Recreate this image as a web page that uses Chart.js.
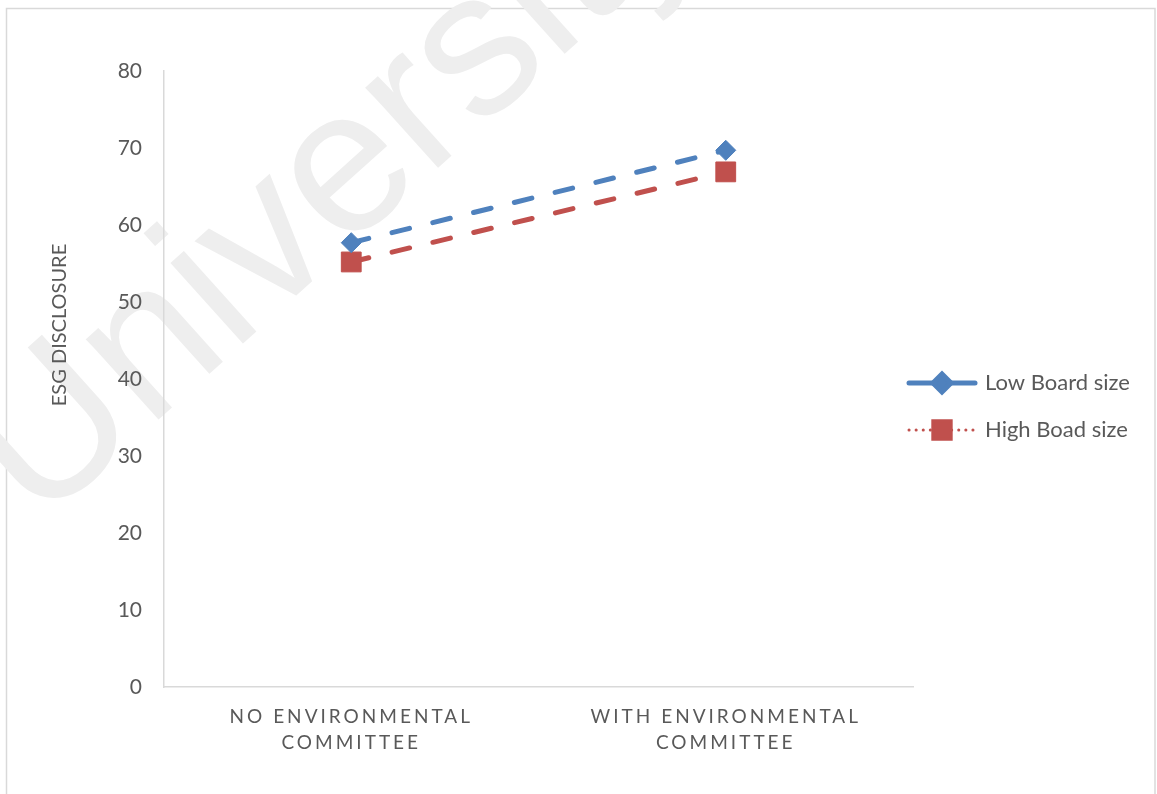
<!DOCTYPE html>
<html>
<head>
<meta charset="utf-8">
<script src="https://cdn.jsdelivr.net/npm/chart.js@4.4.1/dist/chart.umd.min.js"></script>
<style>
  html, body { margin: 0; padding: 0; background: #ffffff; }
  #wrap { position: relative; width: 1157px; height: 794px; }
</style>
</head>
<body>
<div id="wrap"><canvas id="chart"></canvas></div>
<script>
// Chart data
const categories = [
  ['NO ENVIRONMENTAL', 'COMMITTEE'],
  ['WITH ENVIRONMENTAL', 'COMMITTEE']
];
const seriesNames = ['Low Board size', 'High Boad size'];
const lowBoardSize = [57.7, 69.7];
const highBoardSize = [55.2, 66.9];
const yTickValues = [0, 10, 20, 30, 40, 50, 60, 70, 80];
const yAxisTitle = 'ESG DISCLOSURE';
const watermarkText = 'University';

const BLUE = '#4F81BD';
const RED = '#C0504D';
const TEXT = '#595959';
const AXIS = '#d9d9d9';
const FONT = 'Lato, "Open Sans", sans-serif';

// Category axis whose tick labels are drawn with extra letter spacing
class SpacedCategoryScale extends Chart.CategoryScale {
  drawLabels(chartArea) {
    const ctx = this.ctx;
    ctx.save();
    ctx.letterSpacing = '3px';
    super.drawLabels(chartArea);
    ctx.restore();
  }
}
SpacedCategoryScale.id = 'spacedCategory';
SpacedCategoryScale.defaults = Chart.CategoryScale.defaults;
Chart.register(SpacedCategoryScale);

// Background, frame and faint diagonal watermark
const backdrop = {
  id: 'backdrop',
  beforeDraw(chart) {
    const ctx = chart.ctx;
    ctx.save();
    ctx.fillStyle = '#ffffff';
    ctx.fillRect(0, 0, chart.width, chart.height);
    ctx.strokeStyle = AXIS;
    ctx.lineWidth = 1.5;
    ctx.strokeRect(6.5, 8.5, chart.width - 8.5, chart.height + 20);
    ctx.translate(38, 528);
    ctx.rotate(-42 * Math.PI / 180);
    ctx.fillStyle = '#eeeeee';
    ctx.font = '205px "Liberation Sans", Arial, sans-serif';
    ctx.textBaseline = 'alphabetic';
    ctx.fillText(watermarkText, 0, 0);
    ctx.restore();
  }
};

// Rotated y-axis title
const axisTitle = {
  id: 'axisTitle',
  afterDraw(chart) {
    const ctx = chart.ctx;
    ctx.save();
    ctx.translate(60, 325);
    ctx.rotate(-Math.PI / 2);
    ctx.fillStyle = TEXT;
    ctx.font = '20px ' + FONT;
    ctx.textAlign = 'center';
    ctx.textBaseline = 'middle';
    ctx.fillText(yAxisTitle, 0, 0);
    ctx.restore();
  }
};

// Legend on the right: line sample with marker, then the series name
const sideLegend = {
  id: 'sideLegend',
  afterDraw(chart) {
    const ctx = chart.ctx;
    chart.data.datasets.forEach((ds, i) => {
      const y = 383 + i * 47;
      ctx.save();
      ctx.strokeStyle = ds.borderColor;
      ctx.lineCap = 'round';
      ctx.lineWidth = ds.legendLineWidth;
      ctx.setLineDash(ds.legendDash);
      ctx.beginPath();
      ctx.moveTo(909, y);
      ctx.lineTo(975, y);
      ctx.stroke();
      ctx.setLineDash([]);
      ctx.fillStyle = ds.pointBackgroundColor;
      ctx.strokeStyle = ds.pointBorderColor;
      Chart.helpers.drawPoint(ctx, {
        pointStyle: ds.pointStyle,
        radius: ds.legendPointRadius,
        rotation: 0,
        borderWidth: 1
      }, 942, y);
      ctx.fillStyle = TEXT;
      ctx.font = '22px ' + FONT;
      ctx.textAlign = 'left';
      ctx.textBaseline = 'middle';
      ctx.fillText(ds.label, 985, y);
      ctx.restore();
    });
  }
};

new Chart(document.getElementById('chart'), {
  type: 'line',
  data: {
    labels: categories,
    datasets: [
      {
        label: seriesNames[0],
        data: lowBoardSize,
        borderColor: BLUE,
        borderWidth: 5,
        borderDash: [18, 24],
        borderCapStyle: 'round',
        pointStyle: 'rectRot',
        pointRadius: 10,
        pointBackgroundColor: BLUE,
        pointBorderColor: BLUE,
        pointBorderWidth: 1,
        legendPointRadius: 9,
        legendLineWidth: 5,
        legendDash: [],
        fill: false,
        tension: 0
      },
      {
        label: seriesNames[1],
        data: highBoardSize,
        borderColor: RED,
        borderWidth: 5,
        borderDash: [18, 24],
        borderCapStyle: 'round',
        pointStyle: 'rect',
        pointRadius: 14,
        pointBackgroundColor: RED,
        pointBorderColor: RED,
        pointBorderWidth: 1,
        legendPointRadius: 13,
        legendLineWidth: 3,
        legendDash: [0.1, 7],
        fill: false,
        tension: 0
      }
    ]
  },
  options: {
    responsive: true,
    maintainAspectRatio: false,
    animation: false,
    events: [],
    layout: { padding: { left: 0, top: 71, right: 244, bottom: 0 } },
    plugins: {
      legend: { display: false },
      tooltip: { enabled: false },
      title: { display: false }
    },
    scales: {
      x: {
        type: 'spacedCategory',
        offset: true,
        grid: { display: false, drawTicks: false },
        border: { display: true, color: AXIS, width: 1.5 },
        ticks: {
          color: TEXT,
          font: { family: FONT, size: 19, lineHeight: 1.37 },
          padding: 17,
          maxRotation: 0,
          autoSkip: false
        },
        afterFit(scale) { scale.height = 107; }
      },
      y: {
        min: yTickValues[0],
        max: yTickValues[yTickValues.length - 1],
        grid: { display: false, drawTicks: false },
        border: { display: true, color: AXIS, width: 1.5 },
        afterBuildTicks(scale) { scale.ticks = yTickValues.map(v => ({ value: v })); },
        ticks: {
          color: TEXT,
          font: { family: FONT, size: 21 },
          padding: 22
        },
        afterFit(scale) { scale.width = 164; }
      }
    }
  },
  plugins: [backdrop, axisTitle, sideLegend]
});
</script>
</body>
</html>
